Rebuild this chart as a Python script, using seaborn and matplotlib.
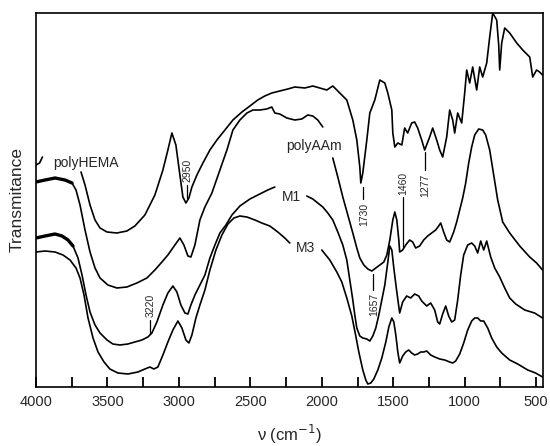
import numpy as np
import pandas as pd
import seaborn as sns
from matplotlib import pyplot as plt
from matplotlib.ticker import MultipleLocator

# FTIR spectra, wavenumber (cm-1) and transmittance (arbitrary units, offset stacked)
# each curve is broken where its name label sits
hema_a_wn = [4000, 3975, 3955]
hema_a_t = [222, 224, 230]
hema_b_wn = [3685, 3657, 3622, 3587, 3552, 3503, 3434, 3364, 3308, 3238, 3168, 3112, 3077, 3049, 3021,
             2993, 2972, 2951, 2930, 2909, 2874, 2832, 2783, 2734, 2678, 2622, 2559, 2503, 2448, 2399,
             2350, 2294, 2238, 2189, 2119, 2063, 2014, 1965, 1923, 1874, 1825, 1783, 1755, 1734, 1727,
             1713, 1685, 1664, 1629, 1594, 1559, 1538, 1510, 1503, 1489, 1468, 1440, 1420, 1399, 1371,
             1350, 1329, 1301, 1280, 1245, 1224, 1196, 1175, 1154, 1126, 1105, 1084, 1070, 1049, 1021,
             1000, 986, 965, 944, 916, 895, 874, 846, 825, 804, 776, 762, 755, 741, 720,
             685, 636, 594, 545, 524, 497, 476, 455]
hema_b_t = [215, 202, 182, 167, 159, 155, 154, 156, 161, 172, 192, 217, 237, 254, 242,
            212, 190, 184, 189, 200, 212, 224, 237, 247, 257, 267, 275, 281, 287, 291,
            294, 296, 298, 300, 299, 301, 299, 297, 301, 294, 287, 267, 247, 220, 204,
            214, 247, 274, 287, 307, 304, 294, 277, 254, 240, 244, 242, 259, 254, 264,
            265, 259, 247, 237, 250, 259, 247, 237, 230, 250, 277, 267, 254, 274, 264,
            294, 317, 304, 320, 297, 320, 310, 324, 350, 374, 367, 342, 317, 344, 359,
            354, 344, 337, 330, 310, 317, 315, 312]

aam_a_wn = [4000, 3937, 3867, 3797, 3748, 3720, 3692, 3657, 3622, 3587, 3552, 3497, 3434, 3364, 3294,
            3224, 3168, 3119, 3077, 3028, 2993, 2965, 2937, 2916, 2888, 2853, 2818, 2769, 2713, 2664,
            2622, 2573, 2524, 2482, 2434, 2385, 2350, 2329, 2294, 2245, 2189, 2140, 2098, 2063, 2028, 1993]
aam_a_t = [205, 207, 209, 207, 204, 197, 182, 157, 135, 119, 109, 102, 99, 100, 104,
           109, 117, 125, 132, 142, 149, 142, 131, 130, 142, 167, 180, 194, 217, 237,
           257, 267, 274, 277, 277, 278, 280, 274, 273, 269, 267, 268, 272, 271, 267, 260]
aam_b_wn = [1923, 1888, 1853, 1818, 1783, 1755, 1734, 1706, 1678, 1650, 1622, 1594, 1566, 1545, 1524,
            1503, 1489, 1475, 1461, 1455, 1434, 1413, 1385, 1364, 1343, 1315, 1287, 1259, 1231, 1203,
            1182, 1168, 1147, 1126, 1105, 1077, 1056, 1035, 1014, 993, 972, 951, 930, 902, 874,
            853, 825, 797, 769, 734, 685, 615, 545, 497, 455]
aam_b_t = [229, 210, 190, 172, 154, 139, 129, 122, 118, 116, 119, 122, 125, 132, 147,
           167, 175, 167, 147, 135, 137, 142, 147, 145, 139, 141, 147, 151, 154, 157,
           161, 164, 155, 147, 145, 155, 165, 177, 189, 204, 224, 240, 252, 258, 257,
           252, 237, 212, 187, 165, 154, 141, 130, 124, 117]

m1_a_wn = [4000, 3937, 3867, 3818, 3776, 3741, 3706, 3678, 3650, 3622, 3587, 3552, 3503, 3462, 3413,
           3357, 3308, 3259, 3217, 3189, 3154, 3112, 3077, 3042, 3014, 2986, 2958, 2937, 2916, 2888,
           2853, 2818, 2783, 2748, 2713, 2671, 2629, 2573, 2503, 2434, 2378, 2329]
m1_a_t = [149, 151, 153, 151, 147, 141, 129, 112, 92, 75, 62, 54, 47, 43, 42,
          43, 45, 47, 50, 54, 65, 82, 94, 101, 95, 82, 74, 73, 82, 92,
          102, 112, 129, 142, 154, 162, 172, 181, 188, 193, 197, 200]
m1_b_wn = [2105, 2063, 2028, 1993, 1958, 1923, 1888, 1853, 1825, 1804, 1783, 1769, 1755, 1734, 1713,
           1685, 1664, 1643, 1622, 1601, 1580, 1559, 1538, 1524, 1510, 1496, 1475, 1455, 1434, 1406,
           1378, 1350, 1322, 1301, 1266, 1238, 1210, 1189, 1175, 1154, 1133, 1112, 1091, 1070, 1049,
           1028, 1007, 979, 951, 930, 909, 888, 867, 846, 818, 790, 755, 720, 685, 643,
           580, 511, 455]
m1_b_t = [191, 188, 184, 180, 174, 167, 155, 142, 127, 107, 87, 72, 59, 51, 49,
          48, 46, 51, 59, 72, 87, 102, 125, 141, 137, 119, 95, 74, 85, 91,
          89, 93, 91, 86, 81, 84, 77, 65, 63, 73, 81, 71, 65, 67, 87,
          112, 132, 142, 144, 141, 134, 146, 137, 146, 130, 119, 110, 99, 89, 83,
          77, 74, 69]

m3_a_wn = [4000, 3937, 3867, 3811, 3762, 3720, 3692, 3664, 3636, 3601, 3566, 3524, 3483, 3427, 3357,
           3287, 3238, 3203, 3175, 3147, 3112, 3077, 3042, 3007, 2979, 2951, 2930, 2909, 2881, 2853,
           2818, 2783, 2741, 2699, 2657, 2615, 2573, 2524, 2468, 2420, 2364, 2308, 2259, 2224]
m3_a_t = [135, 136, 135, 132, 127, 119, 109, 92, 69, 49, 35, 25, 18, 14, 13,
          15, 18, 20, 18, 20, 32, 45, 57, 66, 59, 47, 44, 52, 69, 82,
          97, 117, 137, 152, 163, 169, 171, 170, 167, 164, 161, 155, 149, 144]
m3_b_wn = [2000, 1944, 1895, 1860, 1825, 1790, 1762, 1741, 1713, 1692, 1678, 1657, 1636, 1608, 1580,
           1552, 1531, 1510, 1496, 1482, 1468, 1455, 1434, 1413, 1392, 1371, 1350, 1329, 1308, 1287,
           1266, 1238, 1210, 1175, 1140, 1105, 1084, 1063, 1035, 1007, 979, 951, 930, 909, 888,
           867, 839, 811, 776, 741, 685, 629, 559, 504, 455]
m3_b_t = [137, 127, 115, 105, 89, 71, 51, 35, 17, 7, 3, 4, 8, 17, 29,
          45, 60, 69, 65, 52, 35, 24, 31, 35, 37, 34, 32, 33, 35, 35,
          36, 32, 30, 28, 27, 25, 24, 26, 33, 44, 57, 66, 69, 69, 66,
          66, 59, 49, 40, 34, 27, 23, 17, 14, 10]

segments = {
    "hema_a": (hema_a_wn, hema_a_t), "hema_b": (hema_b_wn, hema_b_t),
    "aam_a": (aam_a_wn, aam_a_t), "aam_b": (aam_b_wn, aam_b_t),
    "m1_a": (m1_a_wn, m1_a_t), "m1_b": (m1_b_wn, m1_b_t),
    "m3_a": (m3_a_wn, m3_a_t), "m3_b": (m3_b_wn, m3_b_t),
}
frames = []
for name, (wn, t) in segments.items():
    frames.append(pd.DataFrame({"wn": wn, "T": t, "seg": name}))
df = pd.concat(frames, ignore_index=True)

# noisy (thicker looking) start of the polyAAm and M1 traces
noisy = df[df["seg"].isin(["aam_a", "m1_a"]) & (df["wn"] >= 3740)]

# curve names: text, wavenumber, transmittance
names = [("polyHEMA", 3650, 224), ("polyAAm", 2056, 241), ("M1", 2210, 190), ("M3", 2112, 139)]
# band marks: text, wavenumber, text centre, tick start, tick end
bands = [("2950", 2937, 217, 202, 189), ("3220", 3196, 82, 67, 53), ("1730", 1706, 173, 200, 188),
         ("1460", 1427, 204, 190, 140), ("1277", 1273, 202, 235, 217), ("1657", 1636, 83, 113, 97)]

sns.set_style("ticks")
plt.rcParams['font.family'] = ['Liberation Sans', 'DejaVu Sans']

fig = plt.figure(figsize=(5.5, 4.46), dpi=100)
ax = fig.add_axes([36/550, 1 - 387/446, 507/550, 374/446])

sns.lineplot(data=df, x="wn", y="T", units="seg", estimator=None, sort=False,
             color="black", lw=1.2, ax=ax)
sns.lineplot(data=noisy, x="wn", y="T", units="seg", estimator=None, sort=False,
             color="black", lw=2.4, ax=ax)

for txt, w, t in names:
    ax.text(w, t, txt, ha="center", va="center", fontsize=10)
for txt, w, tc, t0, t1 in bands:
    ax.text(w, tc, txt, ha="center", va="center", rotation=90, fontsize=7.5)
    ax.plot([w + 8, w + 8], [t0, t1], color="black", lw=0.9)

ax.set_xlim(4000, 452)
ax.set_ylim(0, 374)
ax.xaxis.set_major_locator(MultipleLocator(500))
ax.xaxis.set_minor_locator(MultipleLocator(250))
ax.tick_params(axis="x", which="major", direction="in", length=7, width=1.3,
               color="black", labelsize=10.5, pad=6)
ax.tick_params(axis="x", which="minor", direction="in", length=7, width=1.3, color="black")
ax.set_yticks([])
for s in ax.spines.values():
    s.set_linewidth(1.2)
    s.set_color("black")
    s.set_visible(True)
ax.set_xlabel("ν (cm$^{-1}$)", fontsize=12, labelpad=10)
ax.set_ylabel("Transmitance", fontsize=12.5, labelpad=8)

fig.savefig("out.png", dpi=100)
